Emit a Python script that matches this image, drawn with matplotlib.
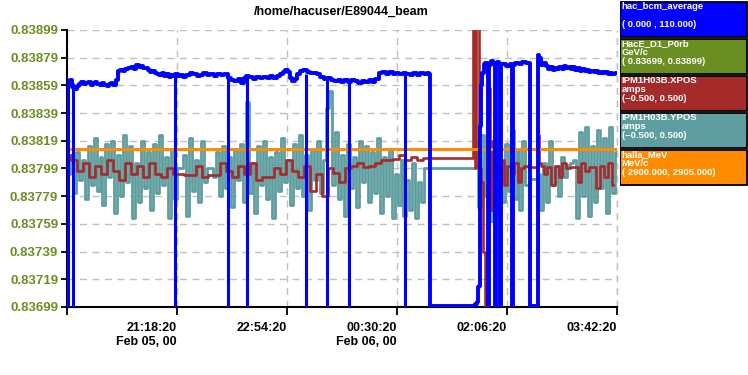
import numpy as np
import matplotlib
matplotlib.use("Agg")
import matplotlib.pyplot as plt
from matplotlib.patches import Rectangle

plt.rcParams['font.family'] = ['Liberation Sans', 'DejaVu Sans']

# ---------------- data ----------------
title = "/home/hacuser/E89044_beam"
y_lo, y_hi = 0.83699, 0.83899           # HacE_D1_P0rb range (left axis)
y_ticks = [0.83699, 0.83719, 0.83739, 0.83759, 0.83779, 0.83799,
           0.83819, 0.83839, 0.83859, 0.83879, 0.83899]
x_ticks = [0, 96, 192, 288, 384, 480]    # minutes since 19:42:20 Feb 05
x_labels = ["", "21:18:20\nFeb 05, 00", "22:54:20", "00:30:20\nFeb 06, 00",
            "02:06:20", "03:42:20"]

# hac_bcm_average (uA), range 0..110
bcm_t = [0, 2, 4, 6, 8, 10, 12, 14, 16, 18, 20, 22, 24, 26, 28, 30, 32, 34, 36, 38, 40, 42, 44,
         46, 48, 50, 52, 55, 58, 60, 62, 64, 66, 68, 70, 72, 74, 76, 78, 80, 82, 84, 86, 88, 90,
         92, 94, 96, 98, 100, 103, 106, 109, 112, 115, 118, 121, 124, 127, 130, 133, 136, 139,
         142, 145, 148, 151, 154, 156, 158, 161, 164, 167, 170, 173, 176, 179, 182, 185, 188,
         190, 192, 194, 196, 198, 200, 202, 205, 208, 211, 214, 217, 220, 223, 226, 229, 232,
         235, 238, 241, 244, 247, 250, 253, 256, 259, 262, 265, 268, 271, 274, 277, 280, 283,
         286, 289, 292, 295, 298, 301, 304, 307, 310, 313, 316, 317.0, 317.4, 335, 356,
         357.2, 358.2, 359.0, 360.0, 360.7, 361.3, 362.0, 363.3, 364.4, 366, 367.5, 367.8,
         368.6, 368.9, 371, 373.6, 373.9, 374.7, 375.0, 377, 378.1, 378.4, 379.1, 379.4, 382,
         385, 388.4, 388.7, 389.4, 389.7, 393, 396, 399, 402, 404.2, 404.5, 411.0, 411.4, 413,
         415, 417, 419, 421, 423, 425, 427, 429, 431, 433, 435, 437, 439, 441, 443, 445, 447,
         449, 451, 453, 455, 457, 459, 461, 463, 465, 467, 469, 471, 473, 475, 477, 480]
bcm_v = [89.8, 89.5, 90.0, 87.5, 86.5, 87.8, 88.6, 89.2, 88.4, 88.9, 89.3, 88.1, 88.8, 89.4,
         88.6, 88.2, 89.0, 88.0, 87.6, 88.7, 89.1, 88.3, 90.2,
         93.6, 94.2, 93.8, 94.6, 94.9, 95.3, 94.7, 96.0, 95.2, 95.6, 94.8, 95.1, 94.2, 93.5,
         93.9, 93.0, 92.6, 92.2, 92.8, 91.7, 92.4, 91.5, 92.0, 91.8, 92.6, 91.6, 92.3, 91.4,
         92.1, 92.9, 92.5, 91.6, 92.2, 92.8, 92.0, 92.4, 91.9, 92.7, 92.1, 92.5, 91.0, 90.2,
         89.6, 90.4, 88.9, 90.8, 91.9, 91.2, 90.6, 91.5, 90.8, 91.4, 90.9, 91.6, 91.1, 91.8,
         92.6, 93.4, 94.0, 93.2, 91.0, 89.8, 90.5, 92.5, 93.6, 94.2, 93.4, 92.8, 93.1, 92.4,
         91.5, 90.6, 91.0, 90.2, 89.6, 90.3, 89.5, 90.1, 89.3, 90.0, 89.6, 89.0, 89.8, 89.4,
         90.3, 89.5, 90.6, 92.8, 93.4, 92.6, 93.2, 92.5, 93.0, 92.4, 93.1, 92.6, 92.0, 92.9,
         92.3, 93.0, 92.5, 92.8, 92.5, 0.4, 0.3, 0.4,
         1.0, 2.0, 8.0, 8.5, 35.0, 72.0, 88.0, 93.0, 96.5, 97.0, 96.8, 0.4,
         0.4, 96.0, 97.5, 97.0, 0.4, 0.4, 96.8, 97.2, 96.5, 0.4, 0.4, 96.4, 96.6,
         95.8, 96.4, 0.4, 0.4, 96.2, 97.0, 96.5, 97.3, 96.7, 96.8, 0.4, 0.4, 100.0, 99.0,
         96.0, 96.8, 95.6, 94.7, 95.4, 94.3, 95.1, 94.6, 95.3, 94.5, 95.8, 94.9, 95.5, 94.6,
         95.2, 94.1, 94.8, 93.9, 94.5, 93.6, 94.2, 93.4, 93.9, 93.2, 93.8, 93.0, 93.5, 92.8,
         93.3, 92.6, 93.1, 92.7, 92.9]
# short beam trips (time, level before trip)
trip_t = [1.2, 5.6, 94.8, 141.3, 157.8, 209.0, 227.0, 246.2, 295.3]
trip_top = [89.8, 89.0, 91.8, 91.5, 91.9, 92.5, 90.6, 89.5, 93.0]

# IPM1H03B.YPOS (amps), range -0.5..0.5
ypos_t = [1.5 + 2.6 * i for i in range(121)] + [357.0] + \
         [357.5 + 2.6 * i for i in range(18)] + [404.5, 411.0, 411.3] + \
         [411.8 + 2.6 * i for i in range(27)]
ypos_v = [-0.02, 0.05, -0.09, 0.06, -0.04, 0.03, -0.11, 0.08, -0.06, 0.11,
          -0.08, 0.04, -0.13, 0.09, -0.03, 0.10, -0.16, 0.05, -0.10, 0.12,
          -0.05, 0.08, -0.18, 0.02, -0.12, 0.10, -0.07, 0.06, -0.15, 0.09,
          -0.09, 0.12, -0.06, 0.04, -0.18, 0.07, -0.11, 0.002, 0.002, 0.05,
          -0.17, 0.11, -0.08, 0.03, -0.12, 0.10, -0.05, 0.002, 0.002, -0.03,
          0.06, -0.10, 0.08, -0.07, 0.04, -0.14, 0.07, -0.04, 0.09, -0.12,
          0.24, -0.09, 0.02, -0.16, 0.08, -0.06, 0.10, -0.11, 0.04, -0.18,
          0.06, -0.08, 0.11, -0.05, 0.03, -0.13, 0.09, -0.07, 0.12, -0.10,
          0.05, -0.15, 0.07, -0.04, 0.10, -0.09, 0.03, 0.22, 0.28, -0.06,
          0.13, -0.11, 0.05, -0.17, 0.09, -0.07, 0.04, -0.14, 0.10, -0.05,
          0.08, -0.12, 0.06, -0.09, 0.11, -0.16, 0.04, -0.10, 0.07, -0.18,
          -0.02, -0.13, 0.03, -0.17, -0.04, -0.15, 0.02, -0.18, -0.05, -0.12, 0.002,
          0.002,
          0.10, -0.14, 0.12, -0.10, 0.03, -0.19, 0.06, -0.15, 0.02, -0.12, 0.09,
          -0.08, 0.14, -0.11, 0.07, -0.15, 0.10, -0.06,
          -0.038, -0.038, -0.30,
          -0.02, -0.15, 0.02, -0.12, 0.10, -0.06, 0.01, -0.10, 0.04, -0.03, 0.012,
          0.02, 0.03, -0.18, 0.13, -0.10, 0.15, -0.17, 0.08, -0.12, 0.14, -0.07,
          0.11, -0.16, 0.15, -0.09, 0.06]

# IPM1H03B.XPOS (amps), range -0.5..0.5
xpos_t = [1.5 + 5.2 * i for i in range(61)] + \
         [354.5, 355.5, 356.5, 357.5, 359, 361, 362.5, 364, 365.5, 367, 368.5, 370, 372, 374,
          376, 378, 380, 383, 386, 389, 392, 395, 398, 401, 404, 411.0, 411.5, 413] + \
         [414.5 + 3.3 * i for i in range(20)]
xpos_v = [0.05, 0.03, -0.01, 0.02, -0.03, 0.01, -0.02, 0.03, -0.01, -0.04,
          0.02, -0.02, 0.01, -0.03, 0.02, -0.02, -0.03, 0.00, -0.02, -0.02,
          -0.023, -0.023, 0.01, -0.03, -0.023, -0.023, 0.02, -0.01, -0.03, 0.01,
          -0.02, 0.02, -0.04, -0.031, -0.031, 0.00, -0.02, 0.03, -0.01, -0.03,
          0.01, -0.08, -0.02, -0.10, 0.00, -0.016, -0.05, 0.00, 0.01, 0.02,
          0.005, 0.01, 0.02, 0.03, 0.03, 0.035, 0.05, 0.03, 0.04, 0.03, 0.038,
          0.038, 0.55, 0.0, 0.55, 0.55, 0.0, -0.05, -0.30, -0.55, -0.55, 0.29, -0.15, 0.10,
          0.0, 0.02, -0.03, 0.03, -0.06, 0.01, -0.02, 0.02, -0.05, 0.0, 0.01,
          0.005, 0.005, 0.12, 0.02,
          0.01, -0.02, 0.005, -0.06, 0.01, -0.03, 0.02, 0.0, 0.005, 0.005,
          -0.05, 0.02, -0.01, 0.005, 0.005, -0.07, 0.01, -0.03, 0.02, -0.06]

# halla_MeV (MeV/c), range 2900..2905
mev_t = [1.5, 480]
mev_v = [2902.85, 2902.85]

legend_items = [
    ("#0000ff", ["hac_bcm_average", "", "( 0.000 , 110.000)"]),
    ("#6b8e23", ["HacE_D1_P0rb", "GeV/c", "( 0.83699, 0.83899)"]),
    ("#a52a2a", ["IPM1H03B.XPOS", "amps", "(\u22120.500, 0.500)"]),
    ("#5f9ea0", ["IPM1H03B.YPOS", "amps", "(\u22120.500, 0.500)"]),
    ("#ff8c00", ["halla_MeV", "MeV/c", "( 2900.000, 2905.000)"]),
]


def to_axis(v, lo, hi):
    return y_lo + (np.asarray(v, dtype=float) - lo) / (hi - lo) * (y_hi - y_lo)


# ---------------- figure ----------------
W, H = 748, 375
fig = plt.figure(figsize=(W / 100, H / 100), dpi=100)
L, R, T, B = 66.5, 616.7, 30, 307
ax = fig.add_axes([L / W, 1 - B / H, (R - L) / W, (B - T) / H])

ax.plot(ypos_t, to_axis(ypos_v, -0.5, 0.5), color="#5f9ea0", lw=2.0,
        drawstyle="steps-mid", zorder=2)
ax.plot(xpos_t, to_axis(xpos_v, -0.5, 0.5), color="#a52a2a", lw=1.9,
        drawstyle="steps-mid", zorder=3)
ax.plot(mev_t, to_axis(mev_v, 2900, 2905), color="#ff8c00", lw=2.2, zorder=4)
ax.plot(bcm_t, to_axis(bcm_v, 0, 110), color="#0000ff", lw=2.8, zorder=5,
        drawstyle="steps-mid")
ax.vlines(trip_t, y_lo, to_axis(trip_top, 0, 110), color="#0000ff", lw=2.2, zorder=5)

ax.set_xlim(0, 480)
ax.set_ylim(y_lo, y_hi)
ax.set_yticks(y_ticks)
ax.set_yticklabels([f"{v:.5f}" for v in y_ticks])
ax.set_xticks(x_ticks)
ax.set_xticklabels(x_labels)
for lab in ax.get_xticklabels():
    lab.set_horizontalalignment("right")
    lab.set_multialignment("right")

ax.tick_params(axis="y", direction="out", length=4, width=1.3, pad=2,
               labelsize=9.5, labelcolor="#6b8e23")
ax.tick_params(axis="x", direction="out", length=6, width=1.3, pad=5, labelsize=9)
for lab in ax.get_yticklabels() + ax.get_xticklabels():
    lab.set_fontweight("bold")

ax.grid(True, color="#c0c0c0", linestyle=(0, (5, 4)), lw=1.0, zorder=0)
ax.set_axisbelow(True)
ax.axvline(480, color="#c0c0c0", linestyle=(0, (5, 4)), lw=1.0, clip_on=False, zorder=0)
for s in ("top", "right"):
    ax.spines[s].set_visible(False)
for s in ("left", "bottom"):
    ax.spines[s].set_linewidth(1.5)
    ax.spines[s].set_color("black")

fig.text((L + R) / 2 / W, 1 - 12 / H, title, ha="center", va="center",
         fontsize=9, fontweight="bold")

# legend boxes on the right
lax = fig.add_axes([619.5 / W, 1 - 186 / H, 128 / W, 186 / H])
lax.set_xlim(0, 128)
lax.set_ylim(186, 0)
lax.axis("off")
tops = [1.7, 38.7, 75.7, 112.7, 149.7]
for (col, lines), top in zip(legend_items, tops):
    lax.add_patch(Rectangle((0.8, top), 126.5, 35, facecolor=col, edgecolor="black",
                            lw=1.3))
    for k, txt in enumerate(lines):
        if txt:
            lax.text(2.0, top + 5.0 + 9.0 * k, txt, color="white", fontsize=6.8,
                     fontweight="bold", ha="left", va="center")

fig.savefig("out.png", dpi=100)
